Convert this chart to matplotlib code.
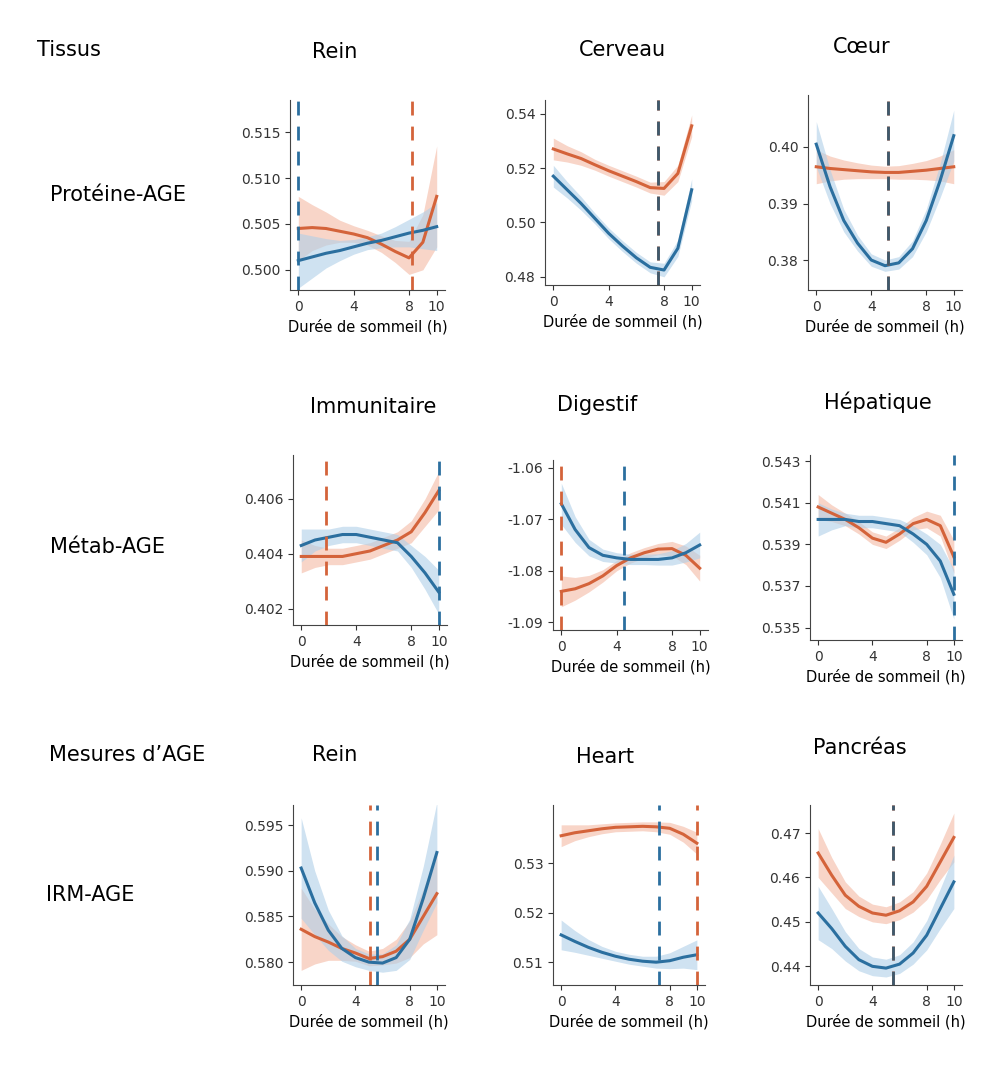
import matplotlib
matplotlib.use("Agg")
import matplotlib.pyplot as plt
import numpy as np

W, H = 1008, 1071
x = list(range(11))
xticks = [0, 4, 8, 10]
ORANGE = "#D4633A"; BLUE = "#2B6F9F"
ORB = "#F4B9A4"; BLB = "#AFCFE8"

titles = ["Rein", "Cerveau", "Cœur", "Immunitaire", "Digestif", "Hépatique", "Rein", "Heart", "Pancréas"]
ylims = [(0.4978, 0.5185), (0.477, 0.545), (0.3747, 0.4092),
         (0.4014, 0.4076), (-1.0915, -1.0585), (0.5344, 0.5433),
         (0.5775, 0.5972), (0.5054, 0.5417), (0.4358, 0.4763)]
yticks = [[0.500, 0.505, 0.510, 0.515], [0.48, 0.50, 0.52, 0.54], [0.38, 0.39, 0.40],
          [0.402, 0.404, 0.406], [-1.09, -1.08, -1.07, -1.06], [0.535, 0.537, 0.539, 0.541, 0.543],
          [0.580, 0.585, 0.590, 0.595], [0.51, 0.52, 0.53], [0.44, 0.45, 0.46, 0.47]]
ytfmt = ["%.3f", "%.2f", "%.2f", "%.3f", "%.2f", "%.3f", "%.3f", "%.2f", "%.2f"]

orange = [
 [0.5045, 0.5046, 0.5045, 0.5042, 0.5039, 0.5035, 0.5028, 0.5020, 0.5013, 0.5030, 0.5080],
 [0.527, 0.5252, 0.5235, 0.5212, 0.519, 0.517, 0.515, 0.5128, 0.5125, 0.518, 0.5355],
 [0.3965, 0.3962, 0.3960, 0.3958, 0.3956, 0.3955, 0.3955, 0.3957, 0.3959, 0.3962, 0.3965],
 [0.4039, 0.4039, 0.4039, 0.4039, 0.4040, 0.4041, 0.4043, 0.4045, 0.4048, 0.4055, 0.4063],
 [-1.084, -1.0835, -1.0825, -1.081, -1.079, -1.0775, -1.0765, -1.0758, -1.0757, -1.077, -1.0795],
 [0.5408, 0.5405, 0.5402, 0.5398, 0.5393, 0.5391, 0.5395, 0.5400, 0.5402, 0.5399, 0.5384],
 [0.5836, 0.5828, 0.5822, 0.5815, 0.5810, 0.5804, 0.5806, 0.5812, 0.5825, 0.5850, 0.5875],
 [0.5355, 0.5361, 0.5365, 0.5369, 0.5372, 0.5373, 0.5374, 0.5373, 0.5370, 0.5358, 0.5340],
 [0.4655, 0.4605, 0.456, 0.4535, 0.452, 0.4515, 0.4525, 0.4545, 0.458, 0.4635, 0.469],
]
orange_hw = [
 [0.0035, 0.0025, 0.0018, 0.0012, 0.0009, 0.0008, 0.0009, 0.0012, 0.0018, 0.003, 0.0055],
 [0.004, 0.003, 0.0025, 0.002, 0.002, 0.002, 0.002, 0.002, 0.0025, 0.003, 0.004],
 [0.003, 0.0022, 0.0017, 0.0014, 0.0012, 0.0011, 0.0012, 0.0014, 0.0017, 0.0022, 0.003],
 [0.0006, 0.0004, 0.0003, 0.0003, 0.0003, 0.0003, 0.0003, 0.0003, 0.0004, 0.0005, 0.0007],
 [0.003, 0.0022, 0.0016, 0.0012, 0.001, 0.001, 0.001, 0.0011, 0.0014, 0.0018, 0.0025],
 [0.0006, 0.0004, 0.0003, 0.0003, 0.0003, 0.0003, 0.0003, 0.0003, 0.0004, 0.0005, 0.0008],
 [0.0045, 0.003, 0.002, 0.0013, 0.0009, 0.0008, 0.0009, 0.0013, 0.002, 0.003, 0.0045],
 [0.0022, 0.0016, 0.0012, 0.001, 0.0009, 0.0009, 0.0009, 0.001, 0.0012, 0.0016, 0.0022],
 [0.0055, 0.004, 0.003, 0.0023, 0.002, 0.0019, 0.002, 0.0023, 0.003, 0.004, 0.0055],
]
blue = [
 [0.5010, 0.5014, 0.5018, 0.5021, 0.5025, 0.5029, 0.5032, 0.5036, 0.5040, 0.5043, 0.5047],
 [0.517, 0.512, 0.507, 0.5015, 0.496, 0.4913, 0.487, 0.4835, 0.4825, 0.4905, 0.512],
 [0.4005, 0.393, 0.387, 0.383, 0.380, 0.379, 0.3795, 0.382, 0.387, 0.394, 0.402],
 [0.4043, 0.4045, 0.4046, 0.4047, 0.4047, 0.4046, 0.4045, 0.4044, 0.4039, 0.4033, 0.4026],
 [-1.067, -1.072, -1.0755, -1.077, -1.0775, -1.0778, -1.0778, -1.0778, -1.0775, -1.0765, -1.075],
 [0.5402, 0.5402, 0.5402, 0.5401, 0.5401, 0.5400, 0.5399, 0.5395, 0.5390, 0.5382, 0.5366],
 [0.5903, 0.5865, 0.5835, 0.5815, 0.5805, 0.5800, 0.5799, 0.5805, 0.5825, 0.5870, 0.5920],
 [0.5155, 0.5142, 0.5130, 0.5120, 0.5112, 0.5106, 0.5102, 0.5100, 0.5103, 0.5110, 0.5115],
 [0.452, 0.4485, 0.4445, 0.4415, 0.440, 0.4396, 0.4405, 0.443, 0.447, 0.453, 0.459],
]
blue_hw = [
 [0.003, 0.0023, 0.0016, 0.0011, 0.0008, 0.0007, 0.0008, 0.0011, 0.0015, 0.002, 0.0026],
 [0.004, 0.003, 0.0025, 0.002, 0.002, 0.002, 0.002, 0.002, 0.0025, 0.003, 0.004],
 [0.004, 0.003, 0.002, 0.0014, 0.0011, 0.001, 0.0011, 0.0014, 0.002, 0.003, 0.0045],
 [0.0006, 0.0004, 0.0003, 0.0003, 0.0003, 0.0003, 0.0003, 0.0003, 0.0004, 0.0006, 0.0008],
 [0.004, 0.0025, 0.0016, 0.0012, 0.001, 0.001, 0.001, 0.0011, 0.0014, 0.0018, 0.0025],
 [0.0008, 0.0005, 0.0003, 0.0003, 0.0003, 0.0003, 0.0003, 0.0004, 0.0005, 0.0008, 0.0012],
 [0.0055, 0.0035, 0.0022, 0.0014, 0.001, 0.0009, 0.001, 0.0014, 0.0022, 0.0035, 0.0055],
 [0.003, 0.0022, 0.0016, 0.0012, 0.001, 0.001, 0.001, 0.0012, 0.0016, 0.0022, 0.003],
 [0.006, 0.0045, 0.0033, 0.0025, 0.0021, 0.002, 0.0021, 0.0025, 0.0033, 0.0045, 0.006],
]
vl_orange = [8.2, 7.6, 5.2, 1.8, 0.0, None, 5.1, 10.0, 5.5]
vl_blue = [0.0, 7.6, 5.2, 10.0, 4.5, 10.0, 5.6, 7.2, 5.5]

# axes boxes in pixels: left, top, right, bottom
boxes = [(290, 100, 445, 290), (545, 100, 700, 285), (808, 95, 962, 290),
         (293, 455, 447, 625), (553, 460, 708, 630), (810, 455, 962, 640),
         (293, 805, 445, 985), (553, 805, 705, 985), (810, 805, 962, 985)]
title_pos = [(335, 52), (622, 50), (862, 47), (373, 407), (597, 405), (878, 402),
             (335, 755), (605, 757), (860, 748)]

fig = plt.figure(figsize=(W / 100, H / 100), dpi=100)
for i in range(9):
    l, t, r, b = boxes[i]
    ax = fig.add_axes([l / W, 1 - b / H, (r - l) / W, (b - t) / H])
    o = np.array(orange[i]); oh = np.array(orange_hw[i])
    bl = np.array(blue[i]); bh = np.array(blue_hw[i])
    ax.fill_between(x, o - oh, o + oh, color=ORB, alpha=0.6, lw=0)
    ax.fill_between(x, bl - bh, bl + bh, color=BLB, alpha=0.6, lw=0)
    ax.plot(x, o, color=ORANGE, lw=2.2)
    ax.plot(x, bl, color=BLUE, lw=2.2)
    if vl_orange[i] is not None:
        ax.axvline(vl_orange[i], color=ORANGE, lw=2, ls=(0, (5, 4)))
    if vl_blue[i] is not None:
        c = "#3D5A6E" if vl_orange[i] == vl_blue[i] else BLUE
        ax.axvline(vl_blue[i], color=c, lw=2, ls=(0, (5, 4)))
    ax.set_xlim(-0.6, 10.6)
    ax.set_ylim(*ylims[i])
    ax.set_xticks(xticks)
    ax.set_yticks(yticks[i])
    ax.set_yticklabels([ytfmt[i] % v for v in yticks[i]])
    for s in ["top", "right"]:
        ax.spines[s].set_visible(False)
    for s in ["left", "bottom"]:
        ax.spines[s].set_color("#444444")
    ax.tick_params(labelsize=10, colors="#333333")
    ax.set_xlabel("Durée de sommeil (h)", fontsize=10.5)
    fig.text(title_pos[i][0] / W, 1 - title_pos[i][1] / H, titles[i], fontsize=15,
             ha="center", va="center")

labels = [("Tissus", 37, 50, "left"), ("Protéine-AGE", 118, 195, "center"),
          ("Métab-AGE", 108, 547, "center"), ("Mesures d’AGE", 127, 755, "center"),
          ("IRM-AGE", 90, 895, "center")]
for s, px, py, ha in labels:
    fig.text(px / W, 1 - py / H, s, fontsize=15, ha=ha, va="center")

fig.savefig("out.png", dpi=100)
